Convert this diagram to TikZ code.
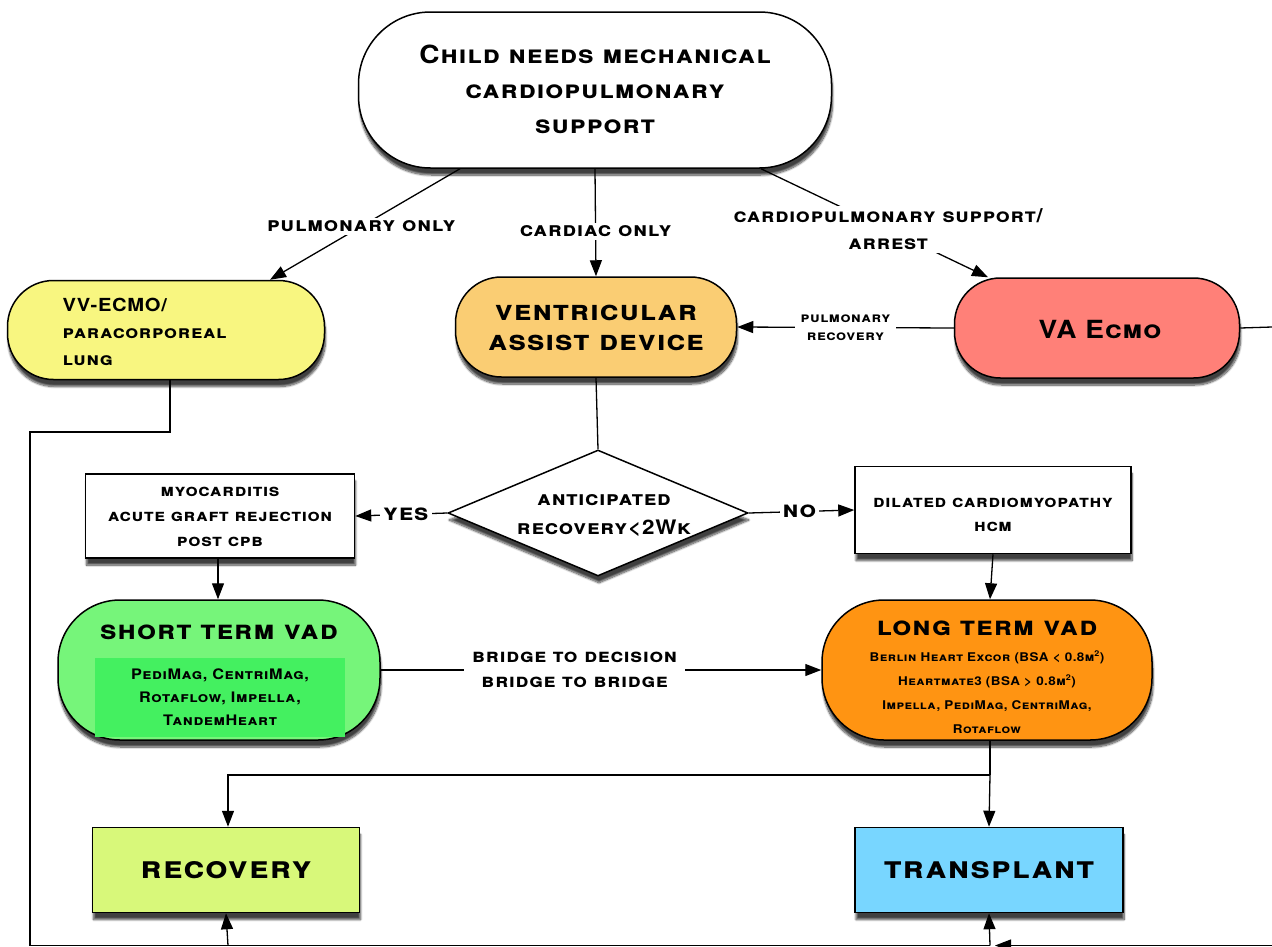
\documentclass[tikz,border=0pt]{standalone}
\usepackage{fontspec}
\setmainfont{TeX Gyre Heros}[FakeStretch=1.12,LetterSpace=4]
\usetikzlibrary{arrows.meta,shapes.geometric,shadows.blur}
\definecolor{vvyel}{RGB}{248,246,128}
\definecolor{vadorg}{RGB}{250,205,115}
\definecolor{vared}{RGB}{255,128,120}
\definecolor{stgreen}{RGB}{118,245,122}
\definecolor{stinner}{RGB}{68,240,96}
\definecolor{ltorange}{RGB}{255,148,18}
\definecolor{recgreen}{RGB}{216,248,122}
\definecolor{trblue}{RGB}{120,214,255}
\begin{document}
\begin{tikzpicture}[x=1pt,y=-1pt,
  line width=1.3pt,
  arr/.style={-{Triangle[length=16pt,width=12pt]}},
  shad/.style={blur shadow={shadow xshift=1pt,shadow yshift=-7pt,shadow blur steps=10,shadow opacity=75}},
  pill/.style={draw,line width=1.5pt,shad,inner sep=0pt},
  boxn/.style={draw,line width=1.5pt,shad,inner sep=0pt},
  txt/.style={align=center,inner sep=0pt},
  lab/.style={fill=white,inner sep=3pt,align=center},
]
\useasboundingbox (0,0) rectangle (1272,946);

% main nodes
\node[pill,fill=white,minimum width=473pt,minimum height=156pt,rounded corners=72pt] (top) at (595,90) {};
\node[txt,font=\bfseries\scshape\fontsize{25}{35}\selectfont] (toptext) at (595,89) {Child needs mechanical\\cardiopulmonary\\support};

\node[pill,fill=vvyel,minimum width=317pt,minimum height=99pt,rounded corners=46pt] (vv) at (166,330) {};
\node[txt,align=left,anchor=west,font=\bfseries\scshape\fontsize{18}{27}\selectfont] (vvtext) at (62,332) {VV-ECMO/\\paracorporeal\\lung};

\node[pill,fill=vadorg,minimum width=281pt,minimum height=100pt,rounded corners=46pt] (vad) at (596,327) {};
\node[txt,font=\bfseries\scshape\fontsize{28}{30}\selectfont] (vadtext) at (596,328) {ventricular\\assist device};

\node[pill,fill=vared,minimum width=285pt,minimum height=100pt,rounded corners=46pt] (va) at (1097,328) {};
\node[txt,font=\bfseries\scshape\fontsize{25}{30}\selectfont] (vatext) at (1100,329) {VA Ecmo};

\node[draw,diamond,fill=white,line width=1.5pt,shad,inner sep=0pt,minimum width=300pt,minimum height=126pt] (dia) at (598,513) {};
\node[txt,font=\bfseries\scshape\fontsize{20}{29}\selectfont] (diatext) at (604,516) {anticipated\\recovery<2Wk};

\node[boxn,fill=white,minimum width=269pt,minimum height=84pt] (myo) at (220,516) {};
\node[txt,font=\bfseries\scshape\fontsize{17}{25}\selectfont] (myotext) at (220,517) {myocarditis\\acute graft rejection\\post cpb};

\node[boxn,fill=white,minimum width=276pt,minimum height=87pt] (dil) at (993,510) {};
\node[txt,font=\bfseries\scshape\fontsize{17}{24}\selectfont] (diltext) at (993,515) {dilated cardiomyopathy\\hcm};

\node[pill,fill=stgreen,minimum width=322pt,minimum height=140pt,rounded corners=62pt] (st) at (219,670) {};
\node[txt,font=\bfseries\scshape\fontsize{26.5}{30}\selectfont] (sttitle) at (219,632) {short term vad};
\node[fill=stinner,minimum width=250pt,minimum height=79pt,inner sep=0pt,align=center,font=\bfseries\scshape\fontsize{14.5}{23}\selectfont] (stlist) at (220,697) {PediMag, CentriMag,\\Rotaflow, Impella,\\TandemHeart};

\node[pill,fill=ltorange,minimum width=330pt,minimum height=140pt,rounded corners=62pt] (lt) at (987,670) {};
\node[txt,font=\bfseries\scshape\fontsize{26.5}{30}\selectfont] (lttitle) at (987,628) {long term vad};
\node[txt,font=\bfseries\scshape\fontsize{12}{24}\selectfont] (ltlist) at (987,692) {Berlin Heart Excor (BSA < 0.8m\textsuperscript{2})\\Heartmate3 (BSA > 0.8m\textsuperscript{2})\\Impella, PediMag, CentriMag,\\Rotaflow};

\node[boxn,fill=recgreen,minimum width=267pt,minimum height=85pt,font=\bfseries\scshape\fontsize{31}{30}\selectfont] (rec) at (226,870) {recovery};
\node[boxn,fill=trblue,minimum width=268pt,minimum height=85pt,font=\bfseries\scshape\fontsize{31}{30}\selectfont] (tr) at (989,870) {transplant};

% coordinates
\coordinate (vvb1) at (170,432);
\coordinate (vvb2) at (30,432);
\coordinate (botl) at (30,945.5);
\coordinate (botrec) at (228,945.5);
\coordinate (bottr) at (990,945.5);
\coordinate (botr) at (1272,945.5);
\coordinate (vaout) at (1272,327);
\coordinate (split) at (990,775);
\coordinate (splitl) at (228,775);

% connectors
\draw[arr] ([xshift=-135pt]top.south) -- ([xshift=104pt]vv.north)
  node[lab,pos=0.52,font=\bfseries\scshape\fontsize{20}{20}\selectfont] (l1) {pulmonary only};
\draw[arr] (top.south) -- (vad.north)
  node[lab,pos=0.58,font=\bfseries\scshape\fontsize{20}{20}\selectfont] (l2) {cardiac only};
\draw[arr] ([xshift=166pt]top.south) -- ([xshift=-109pt]va.north)
  node[lab,pos=0.56,font=\bfseries\scshape\fontsize{19.5}{27}\selectfont] (l3) {cardiopulmonary support/\\arrest};
\draw[arr] (va.west) -- (vad.east)
  node[lab,pos=0.5,inner sep=6pt,font=\bfseries\scshape\fontsize{14}{18}\selectfont] (l4) {pulmonary\\recovery};
\draw (va.east) -- (vaout);
\draw ([xshift=4pt]vv.south) -- (vvb1) -- (vvb2) -- (botl) -- (bottr);
\draw[arr] (botrec) -- (rec.south);
\draw[arr] (bottr) -- (tr.south);
\draw[arr] (botr) -- ([xshift=5pt]bottr);
\draw (vad.south) -- (dia.north);
\draw[arr] (dia.west) -- (myo.east)
  node[lab,pos=0.45,font=\bfseries\scshape\fontsize{23}{24}\selectfont] (yes) {yes};
\draw[arr] (dia.east) -- (dil.west)
  node[lab,pos=0.48,font=\bfseries\scshape\fontsize{23}{24}\selectfont] (no) {no};
\draw[arr] ([xshift=-2pt]myo.south) -- ([xshift=-1pt]st.north);
\draw[arr] (dil.south) -- ([xshift=3pt]lt.north);
\draw[arr] (st.east) -- (lt.west)
  node[lab,pos=0.44,inner sep=8pt,font=\bfseries\scshape\fontsize{19}{25}\selectfont] (br) {bridge to decision\\bridge to bridge};
\draw ([xshift=3pt]lt.south) -- (split);
\draw[arr] (split) -- (tr.north);
\draw[arr] (split) -- (splitl) -- ([xshift=2pt]rec.north);
\end{tikzpicture}
\end{document}
